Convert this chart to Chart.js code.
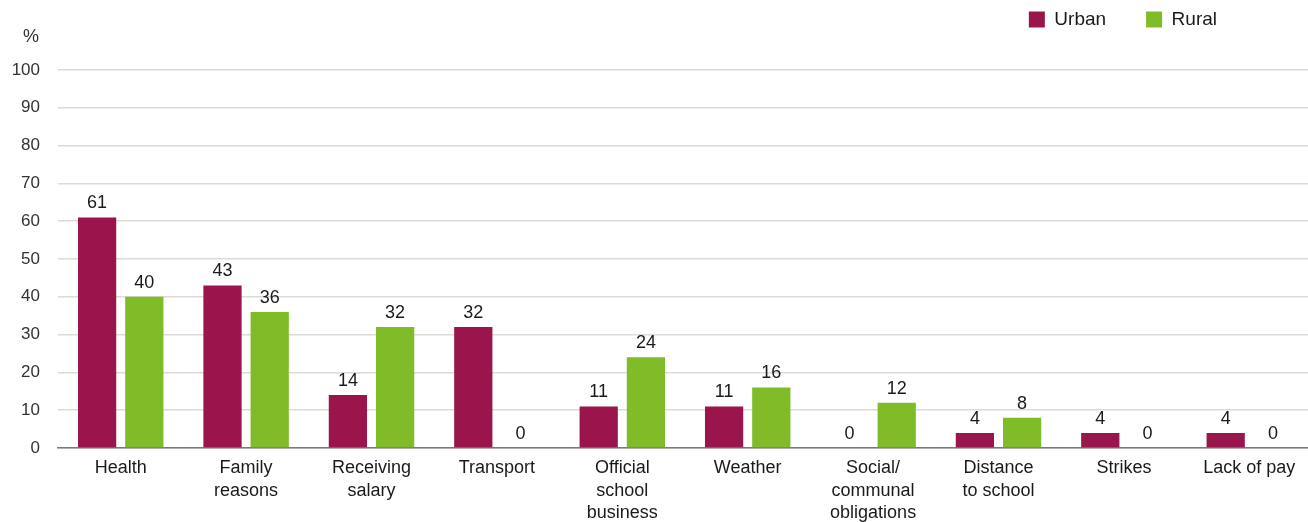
<!DOCTYPE html>
<html>
<head>
<meta charset="utf-8">
<script src="https://cdn.jsdelivr.net/npm/chart.js@4"></script>
<style>
  html, body { margin: 0; padding: 0; background: #fff; overflow: hidden; }
  #wrap { width: 1312px; height: 522px; }
</style>
</head>
<body>
<div id="wrap"><canvas id="reasonsChart"></canvas></div>
<script>
const categories = [
    'Health',
    ['Family', 'reasons'],
    ['Receiving', 'salary'],
    'Transport',
    ['Official', 'school', 'business'],
    'Weather',
    ['Social/', 'communal', 'obligations'],
    ['Distance', 'to school'],
    'Strikes',
    'Lack of pay'
];
const urbanValues = [61, 43, 14, 32, 11, 11, 0, 4, 4, 4];
const ruralValues = [40, 36, 32, 0, 24, 16, 12, 8, 0, 0];
const yTicks = [0, 10, 20, 30, 40, 50, 60, 70, 80, 90, 100];

const fontFamily = '"Liberation Sans", Arial, sans-serif';

// value labels above each bar + the "%" unit label
const barLabels = {
    id: 'barLabels',
    afterDatasetsDraw(chart) {
        const ctx = chart.ctx;
        ctx.save();
        ctx.font = '18px ' + fontFamily;
        ctx.fillStyle = '#1a1a1a';
        ctx.textAlign = 'center';
        ctx.textBaseline = 'bottom';
        chart.data.datasets.forEach((ds, i) => {
            chart.getDatasetMeta(i).data.forEach((bar, j) => {
                ctx.fillText(ds.data[j], bar.x, bar.y - 5);
            });
        });
        ctx.textAlign = 'right';
        ctx.textBaseline = 'middle';
        ctx.fillStyle = '#333';
        ctx.fillText('%', 39, 37);
        ctx.restore();
    }
};

// legend sits up in the corner, plot starts lower
const legendSpace = {
    id: 'legendSpace',
    beforeInit(chart) {
        const origFit = chart.legend.fit;
        chart.legend.fit = function () {
            origFit.call(this);
            this.height = 70;
        };
    },
    afterUpdate(chart) {
        chart.legend.right = 1257;
        chart.legend.top = -30;
    }
};

new Chart(document.getElementById('reasonsChart'), {
    type: 'bar',
    data: {
        labels: categories,
        datasets: [{
            label: 'Urban',
            data: urbanValues,
            backgroundColor: '#99154b',
            categoryPercentage: 0.753,
            barPercentage: 0.81
        }, {
            label: 'Rural',
            data: ruralValues,
            backgroundColor: '#80bc28',
            categoryPercentage: 0.753,
            barPercentage: 0.81
        }]
    },
    options: {
        responsive: true,
        maintainAspectRatio: false,
        animation: false,
        plugins: {
            legend: {
                position: 'top',
                align: 'end',
                labels: {
                    boxWidth: 16,
                    boxHeight: 16,
                    padding: 40,
                    color: '#1a1a1a',
                    font: { family: fontFamily, size: 19 }
                }
            },
            tooltip: { enabled: false }
        },
        scales: {
            x: {
                afterFit(scale) { scale.height = 74; },
                grid: { display: false },
                border: { display: true, color: '#7a7a7a', width: 1.5 },
                ticks: {
                    color: '#1a1a1a',
                    padding: 1,
                    maxRotation: 0,
                    autoSkip: false,
                    font: { family: fontFamily, size: 18, lineHeight: 1.25 }
                }
            },
            y: {
                min: 0,
                max: 100,
                afterFit(scale) { scale.width = 58; },
                afterBuildTicks(scale) { scale.ticks = yTicks.map(v => ({ value: v })); },
                grid: { color: '#dedad4', lineWidth: 1.5, drawTicks: false },
                border: { display: false },
                ticks: {
                    color: '#333',
                    padding: 18,
                    font: { family: fontFamily, size: 17 }
                }
            }
        }
    },
    plugins: [barLabels, legendSpace]
});
</script>
</body>
</html>
